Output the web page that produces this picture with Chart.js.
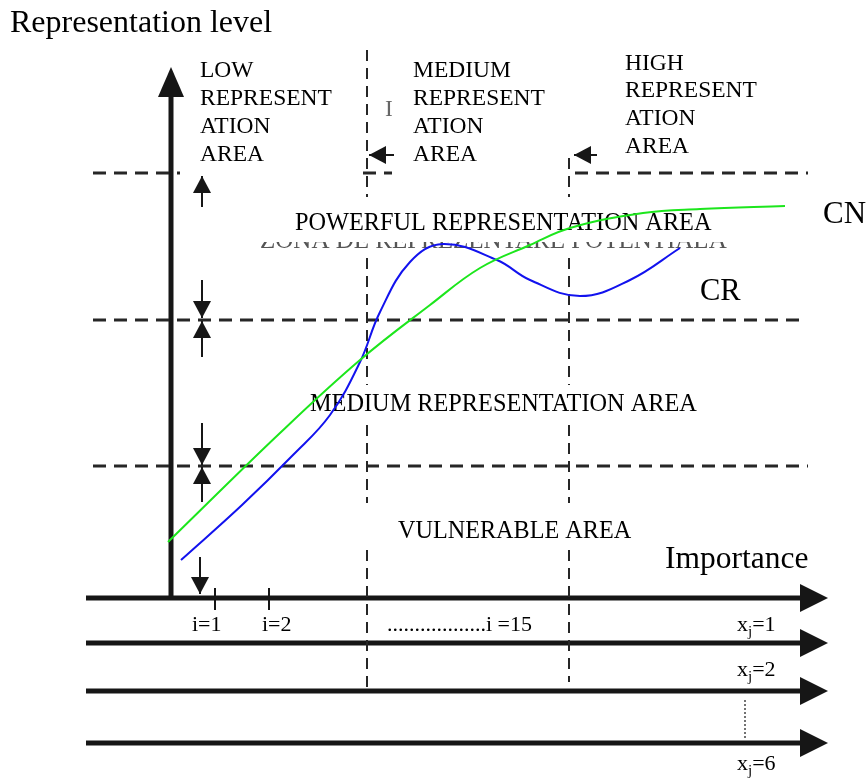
<!DOCTYPE html>
<html>
<head>
<meta charset="utf-8">
<script src="https://cdn.jsdelivr.net/npm/chart.js@4.4.1/dist/chart.umd.min.js"></script>
<style>
  html, body { margin: 0; padding: 0; background: #fff; overflow: hidden; }
  #wrap { width: 867px; height: 783px; position: relative; }
</style>
</head>
<body>
<div id="wrap"><canvas id="c"></canvas></div>
<script>
// Diagram units: x = importance measured from the level axis,
// y = representation level measured above the first importance axis.

// --- Curves ---
const cnImportance = [-4, 108, 188, 258, 308, 358, 398, 471, 528, 613];
const cnLevel      = [56, 165, 238, 293, 330, 353, 370, 385, 389, 392];
const crImportance = [9, 70, 121, 158, 188, 208, 238, 271, 325, 358, 408, 458, 508];
const crLevel      = [38, 93, 143, 183, 236, 286, 336, 354, 338, 318, 302, 318, 350];

// --- Zone boundaries (dashed), with the visible spans ---
const zoneLevels = [425, 278, 132];
const zoneLevelSpans = [
  [[-79, 8], [191, 220], [403, 636]],
  [[-79, 635]],
  [[-79, 636]]
];
const areaBounds = [195, 397];
const areaBoundSpans = [
  [[548, 401], [340, 213], [173, 95], [48, -90]],
  [[440, 401], [340, 213], [173, 95], [48, -84]]
];

// --- Axes ---
const levelAxisX = -1;
const levelAxisTop = 501;
const importanceAxes = [0, -45, -93, -145];
const axisFrom = -86;
const axisTo = 628;
const itemTicks = [43, 97];

// --- Small pointer arrows: [x, fromY, toY] and [y, fromX, toX] ---
const levelPointers = [[30, 391, 422], [30, 318, 280], [30, 241, 277], [30, 175, 133], [30, 96, 131], [28, 41, 4]];
const areaPointers = [[443, 222, 197], [443, 425, 402]];

const SERIF = '"Liberation Serif", "Times New Roman", serif';
const INK = '#161616';

function line(points, opts) {
  return Object.assign({ data: points, pointRadius: 0, pointHoverRadius: 0, fill: false, tension: 0 }, opts);
}

const datasets = [];
datasets.push(line(cnImportance.map((x, i) => ({ x, y: cnLevel[i] })),
  { label: 'CN', borderColor: '#1ce61c', borderWidth: 2, tension: 0.4 }));
datasets.push(line(crImportance.map((x, i) => ({ x, y: crLevel[i] })),
  { label: 'CR', borderColor: '#1212ee', borderWidth: 2, tension: 0.4 }));

zoneLevels.forEach((y, k) => {
  zoneLevelSpans[k].forEach(([a, b]) => {
    datasets.push(line([{ x: a, y }, { x: b, y }], { borderColor: '#262626', borderWidth: 3, borderDash: [13, 8] }));
  });
});
areaBounds.forEach((x, k) => {
  areaBoundSpans[k].forEach(([a, b]) => {
    datasets.push(line([{ x, y: a }, { x, y: b }], { borderColor: '#262626', borderWidth: 2, borderDash: [11, 7] }));
  });
});

datasets.push(line([{ x: levelAxisX, y: importanceAxes[0] }, { x: levelAxisX, y: levelAxisTop }],
  { borderColor: INK, borderWidth: 5 }));
importanceAxes.forEach(y => {
  datasets.push(line([{ x: axisFrom, y }, { x: axisTo, y }], { borderColor: INK, borderWidth: 5 }));
});
itemTicks.forEach(x => {
  datasets.push(line([{ x, y: 10 }, { x, y: -12 }], { borderColor: INK, borderWidth: 2 }));
});
datasets.push(line([{ x: 573, y: -102 }, { x: 573, y: -142 }], { borderColor: '#444', borderWidth: 1.5, borderDash: [2, 2] }));

levelPointers.forEach(([x, a, b]) => {
  datasets.push(line([{ x, y: a }, { x, y: b }], { borderColor: INK, borderWidth: 2 }));
});
areaPointers.forEach(([y, a, b]) => {
  datasets.push(line([{ x: a, y }, { x: b, y }], { borderColor: INK, borderWidth: 2 }));
});

// --- Text annotations (diagram units) ---
const notes = [
  { t: 'Representation level', x: -162, y: 574, s: 32 },
  { t: 'LOW', x: 28, y: 527, s: 23.5 },
  { t: 'REPRESENT', x: 28, y: 499, s: 23.5 },
  { t: 'ATION', x: 28, y: 471, s: 23.5 },
  { t: 'AREA', x: 28, y: 443, s: 23.5 },
  { t: 'MEDIUM', x: 241, y: 527, s: 23.5 },
  { t: 'REPRESENT', x: 241, y: 499, s: 23.5 },
  { t: 'ATION', x: 241, y: 471, s: 23.5 },
  { t: 'AREA', x: 241, y: 443, s: 23.5 },
  { t: 'HIGH', x: 453, y: 534, s: 23.5 },
  { t: 'REPRESENT', x: 453, y: 507, s: 23.5 },
  { t: 'ATION', x: 453, y: 479, s: 23.5 },
  { t: 'AREA', x: 453, y: 451, s: 23.5 },
  { t: 'I', x: 213, y: 488, s: 23.5, c: '#666' },
  { t: 'POWERFUL REPRESENTATION AREA', x: 123, y: 374, s: 24.3 },
  { t: 'MEDIUM REPRESENTATION AREA', x: 138, y: 193, s: 24.3 },
  { t: 'VULNERABLE AREA', x: 226, y: 66, s: 24.2 },
  { t: 'Importance', x: 493, y: 38, s: 31.5 },
  { t: 'CN', x: 651, y: 383, s: 31 },
  { t: 'CR', x: 528, y: 306, s: 30.5 },
  { t: 'i=1', x: 20, y: -27, s: 22 },
  { t: 'i=2', x: 90, y: -27, s: 22 },
  { t: '..................i =15', x: 215, y: -27, s: 22 }
];
const subNotes = [
  { n: '1', x: 565, y: -27 },
  { n: '2', x: 565, y: -72 },
  { n: '6', x: 565, y: -166 }
];

function head(ctx, tx, ty, dx, dy, len, half) {
  const bx = tx - dx * len, by = ty - dy * len;
  ctx.beginPath();
  ctx.moveTo(tx, ty);
  ctx.lineTo(bx - dy * half, by + dx * half);
  ctx.lineTo(bx + dy * half, by - dx * half);
  ctx.closePath();
  ctx.fill();
}

const diagram = {
  id: 'diagram',
  beforeDatasetsDraw(chart) {
    const { ctx } = chart;
    const X = v => chart.scales.x.getPixelForValue(v);
    const Y = v => chart.scales.y.getPixelForValue(v);
    ctx.save();

    // half-hidden original caption under the powerful area label
    ctx.save();
    ctx.beginPath();
    ctx.rect(0, Y(356), chart.width, 20);
    ctx.clip();
    ctx.fillStyle = '#555';
    ctx.font = `25px ${SERIF}`;
    ctx.textBaseline = 'alphabetic';
    ctx.fillText('ZONA DE REPREZENTARE POTENTIALA', X(88), Y(350));
    ctx.restore();

    ctx.textBaseline = 'middle';
    ctx.textAlign = 'left';
    notes.forEach(n => {
      ctx.fillStyle = n.c || '#000';
      ctx.font = `${n.s}px ${SERIF}`;
      ctx.fillText(n.t, X(n.x), Y(n.y));
    });
    subNotes.forEach(n => {
      let x = X(n.x);
      const y = Y(n.y);
      ctx.fillStyle = '#000';
      ctx.font = `22px ${SERIF}`;
      ctx.fillText('x', x, y);
      x += ctx.measureText('x').width;
      ctx.font = `15px ${SERIF}`;
      ctx.fillText('j', x, y + 7);
      x += ctx.measureText('j').width;
      ctx.font = `22px ${SERIF}`;
      ctx.fillText('=' + n.n, x, y);
    });
    ctx.restore();
  },
  afterDatasetsDraw(chart) {
    const { ctx } = chart;
    const X = v => chart.scales.x.getPixelForValue(v);
    const Y = v => chart.scales.y.getPixelForValue(v);
    ctx.save();
    ctx.fillStyle = INK;
    head(ctx, X(levelAxisX), Y(levelAxisTop) - 30, 0, -1, 30, 13);
    importanceAxes.forEach(y => head(ctx, X(axisTo) + 28, Y(y), 1, 0, 28, 14));
    levelPointers.forEach(([x, a, b]) => {
      const d = Math.sign(Y(b) - Y(a));
      head(ctx, X(x), Y(b), 0, d, 17, 9);
    });
    areaPointers.forEach(([y, a, b]) => {
      const d = Math.sign(X(b) - X(a));
      head(ctx, X(b), Y(y), d, 0, 17, 9);
    });
    ctx.restore();
  }
};

new Chart(document.getElementById('c'), {
  type: 'line',
  data: { datasets },
  options: {
    responsive: true,
    maintainAspectRatio: false,
    animation: false,
    devicePixelRatio: 1,
    layout: { padding: 0 },
    events: [],
    plugins: { legend: { display: false }, tooltip: { enabled: false } },
    scales: {
      x: { type: 'linear', min: -172, max: 695, display: false },
      y: { type: 'linear', min: -185, max: 598, display: false }
    }
  },
  plugins: [diagram]
});
</script>
</body>
</html>
